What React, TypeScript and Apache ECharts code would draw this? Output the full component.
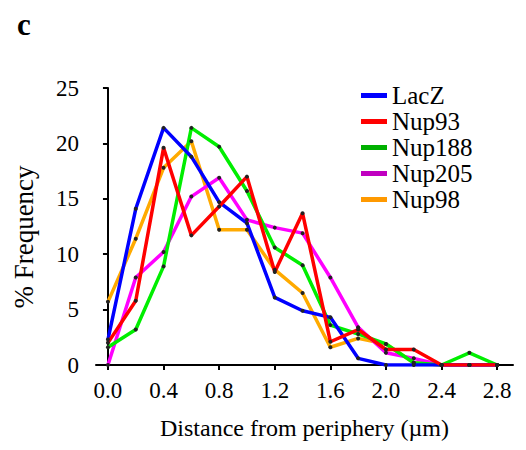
import React, { useEffect, useRef } from "react";
import * as echarts from "echarts";

const distances = [0, 0.2, 0.4, 0.6, 0.8, 1.0, 1.2, 1.4, 1.6, 1.8, 2.0, 2.2, 2.4, 2.6, 2.8];
const xTickLabels = [0.0, 0.4, 0.8, 1.2, 1.6, 2.0, 2.4, 2.8];

const lacZ = [2.3, 14.1, 21.4, 18.8, 14.7, 12.8, 6.1, 4.9, 4.3, 0.6, 0, 0, 0, 0, 0];
const nup93 = [2.0, 5.8, 19.6, 11.7, 14.3, 17.0, 8.4, 13.7, 2.1, 3.2, 1.4, 1.4, 0, 0, 0];
const nup188 = [1.6, 3.2, 8.9, 21.4, 19.7, 15.7, 10.6, 9.0, 3.6, 2.8, 1.9, 0.2, 0, 1.1, 0];
const nup205 = [0, 7.9, 10.2, 15.2, 16.9, 13.1, 12.4, 11.9, 7.9, 3.4, 1.1, 0.6, 0, 0, 0];
const nup98 = [5.7, 11.4, 17.8, 20.2, 12.2, 12.2, 8.6, 6.5, 1.6, 2.4, 1.9, 0.2, 0, 0, 0];

const FONT = "Liberation Serif";

const seriesDefs = [
  { name: "Nup98", data: nup98, color: "#FFAA00", legend: "#FF9900" },
  { name: "Nup205", data: nup205, color: "#FF00FF", legend: "#C000C0" },
  { name: "Nup188", data: nup188, color: "#00EE00", legend: "#00B000" },
  { name: "LacZ", data: lacZ, color: "#0000FF", legend: "#0000FF" },
  { name: "Nup93", data: nup93, color: "#FF0000", legend: "#FF0000" },
];
const legendOrder = ["LacZ", "Nup93", "Nup188", "Nup205", "Nup98"];

export default function App() {
  const ref = useRef<HTMLDivElement>(null);
  useEffect(() => {
    if (!ref.current) return;
    const chart = echarts.init(ref.current, undefined, { renderer: "svg" });
    chart.setOption({
      animation: false,
      backgroundColor: "#ffffff",
      textStyle: { fontFamily: FONT },
      graphic: [
        {
          type: "text",
          left: 17,
          top: 9,
          style: { text: "c", fontFamily: FONT, fontWeight: "bold", fontSize: 31, fill: "#000" },
        },
        {
          type: "text",
          x: 24,
          y: 237,
          rotation: Math.PI / 2,
          style: {
            text: "% Frequency",
            fontFamily: FONT,
            fontSize: 27,
            fill: "#000",
            textAlign: "center",
            textVerticalAlign: "middle",
          },
        },
      ],
      legend: {
        orient: "vertical",
        left: 356,
        top: 78,
        itemWidth: 26,
        itemHeight: 5,
        itemGap: 1,
        icon: "rect",
        textStyle: { fontFamily: FONT, fontSize: 25, color: "#000" },
        data: legendOrder.map((n) => {
          const d = seriesDefs.find((s) => s.name === n)!;
          return { name: n, itemStyle: { color: d.legend } };
        }),
      },
      grid: { left: 96, right: 13, top: 88, bottom: 85 },
      xAxis: {
        type: "value",
        min: -0.086,
        max: 2.914,
        name: "Distance from periphery (\u00b5m)",
        nameLocation: "middle",
        nameGap: 51,
        nameTextStyle: { fontFamily: FONT, fontSize: 24, color: "#000" },
        axisLine: { show: true, lineStyle: { color: "#000", width: 2 } },
        axisTick: {
          show: true,
          customValues: xTickLabels,
          length: 5,
          lineStyle: { color: "#000", width: 2 },
        },
        axisLabel: {
          customValues: xTickLabels,
          formatter: (v: number) => v.toFixed(1),
          fontFamily: FONT,
          fontSize: 23,
          color: "#000",
          margin: 14,
        },
        splitLine: { show: false },
      },
      yAxis: {
        type: "value",
        min: 0,
        max: 25,
        interval: 5,
        axisLine: { show: true, lineStyle: { color: "#000", width: 2 } },
        axisTick: { show: true, length: 5, lineStyle: { color: "#000", width: 2 } },
        axisLabel: { fontFamily: FONT, fontSize: 23, color: "#000", margin: 17 },
        splitLine: { show: false },
      },
      series: seriesDefs.map((s) => ({
        name: s.name,
        type: "line",
        data: s.data.map((v, i) => [distances[i], v]),
        color: s.color,
        lineStyle: { color: s.color, width: 3.5 },
        symbol: "circle",
        symbolSize: 4,
        showSymbol: true,
        itemStyle: { color: "#222" },
        emphasis: { disabled: true },
      })),
    });
    return () => chart.dispose();
  }, []);
  return <div ref={ref} style={{ width: 526, height: 450, margin: -8 }} />;
}
